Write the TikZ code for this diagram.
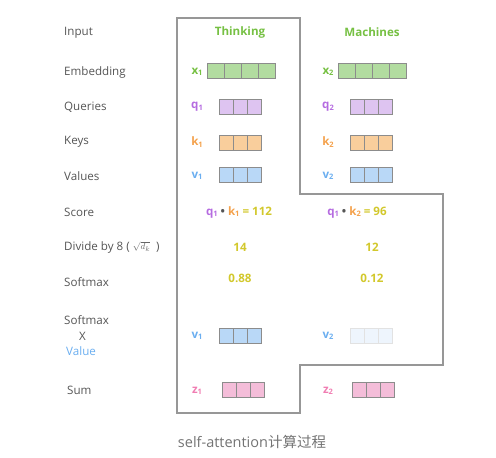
\documentclass[tikz,border=0pt]{standalone}
\usepackage{fontspec}
\setmainfont{Open Sans}
\newfontfamily\cjk{Noto Sans CJK SC}
\definecolor{lbl}{HTML}{555555}
\definecolor{tgreen}{HTML}{76C043}
\definecolor{fgreen}{HTML}{B2DCA0}
\definecolor{tpurple}{HTML}{B56BE0}
\definecolor{fpurple}{HTML}{DEC4F1}
\definecolor{torange}{HTML}{F4A14B}
\definecolor{forange}{HTML}{F9CE9C}
\definecolor{tblue}{HTML}{6AAEF0}
\definecolor{fblue}{HTML}{B9D8F7}
\definecolor{flblue}{HTML}{EEF5FD}
\definecolor{tyellow}{HTML}{D2C82C}
\definecolor{tpink}{HTML}{F07DB2}
\definecolor{fpink}{HTML}{F4BDD9}
\definecolor{edge}{HTML}{8C8C8C}
\newcommand{\sub}[1]{\raisebox{-1.3pt}{\fontsize{7.5}{7.5}\selectfont #1}}
\newcommand{\vecbox}[6]{%
  \foreach \i in {1,...,#4} {\draw[cellline,fill=#6] ({#2+(\i-1)*#5},#3) rectangle ++(#5,15);}
  \coordinate (#1) at ({#2+#4*#5/2},{#3+7.5});}
\begin{document}
\begin{tikzpicture}[x=1pt,y=-1pt,
  rowlabel/.style={anchor=west,text=lbl,font=\fontsize{11.6}{13}\selectfont,inner sep=0},
  vlabel/.style={font=\bfseries\fontsize{11.6}{13}\selectfont,inner sep=0},
  num/.style={font=\bfseries\fontsize{11.6}{13}\selectfont,text=tyellow,inner sep=0},
  cellline/.style={draw=edge,line width=0.9pt},
  outline/.style={draw=edge!90,line width=1.1pt}]
\useasboundingbox (0,0) rectangle (496,458);
% outline
\draw[outline] (177,18) -- (300,18) -- (300,194) -- (443,194) -- (443,365) -- (300,365) -- (300,413) -- (177,413) -- cycle;
% row labels
\node[rowlabel] (lin) at (64,33) {Input};
\node[rowlabel] (lemb) at (64,72) {Embedding};
\node[rowlabel] (lq) at (64,107) {Queries};
\node[rowlabel] (lk) at (64,142) {Keys};
\node[rowlabel] (lv) at (64,176) {Values};
\node[rowlabel] (lsc) at (64,212) {Score};
\node[rowlabel] (ldiv) at (64,247) {Divide by 8 ( \raisebox{0.5pt}{\fontsize{9.5}{9.5}\selectfont\color{black!60}$\sqrt{d_k}$}\hspace{6pt})};
\node[rowlabel] (lsm) at (64,282) {Softmax};
\node[rowlabel] (lsm2) at (64,320) {Softmax};
\node[rowlabel] (lx) at (79,336) {X};
\node[rowlabel,text=tblue] (lval) at (66,351) {Value};
\node[rowlabel] (lsum) at (67,390) {Sum};
% headers
\node[vlabel,text=tgreen] (h1) at (240,32) {Thinking};
\node[vlabel,text=tgreen] (h2) at (372,32) {Machines};
% embeddings
\node[vlabel,text=tgreen] (x1) at (197,72) {x\sub{1}};
\vecbox{e1}{207}{63}{4}{17}{fgreen}
\node[vlabel,text=tgreen] (x2) at (328,72) {x\sub{2}};
\vecbox{e2}{338}{63}{4}{17}{fgreen}
% queries
\node[vlabel,text=tpurple] (q1) at (197,107) {q\sub{1}};
\vecbox{qb1}{219}{99}{3}{14.3}{fpurple}
\node[vlabel,text=tpurple] (q2) at (328,107) {q\sub{2}};
\vecbox{qb2}{350}{99}{3}{14.3}{fpurple}
% keys
\node[vlabel,text=torange] (k1) at (197,142) {k\sub{1}};
\vecbox{kb1}{219}{135}{3}{14.3}{forange}
\node[vlabel,text=torange] (k2) at (328,142) {k\sub{2}};
\vecbox{kb2}{350}{135}{3}{14.3}{forange}
% values
\node[vlabel,text=tblue] (v1) at (197,176) {v\sub{1}};
\vecbox{vb1}{219}{167}{3}{14.3}{fblue}
\node[vlabel,text=tblue] (v2) at (328,176) {v\sub{2}};
\vecbox{vb2}{350}{167}{3}{14.3}{fblue}
% score
\node[vlabel] (s1) at (239,212) {\textcolor{tpurple}{q\sub{1}} \textcolor{lbl}{•} \textcolor{torange}{k\sub{1}} \textcolor{tyellow}{= 112}};
\node[vlabel] (s2) at (357,212) {\textcolor{tpurple}{q\sub{1}} \textcolor{lbl}{•} \textcolor{torange}{k\sub{2}} \textcolor{tyellow}{= 96}};
% divide
\node[num] (d1) at (240,247) {14};
\node[num] (d2) at (372,247) {12};
% softmax
\node[num] (m1) at (240,278) {0.88};
\node[num] (m2) at (372,278) {0.12};
% weighted values
\node[vlabel,text=tblue] (w1) at (197,336) {v\sub{1}};
\vecbox{wb1}{219}{328}{3}{14.3}{fblue}
\node[vlabel,text=tblue] (w2) at (328,336) {v\sub{2}};
\begin{scope}[cellline/.style={draw=edge!25,line width=0.9pt}]
\vecbox{wb2}{350}{328}{3}{14.3}{flblue}
\end{scope}
% sum
\node[vlabel,text=tpink] (z1) at (197,391) {z\sub{1}};
\vecbox{zb1}{222}{382}{3}{14.3}{fpink}
\node[vlabel,text=tpink] (z2) at (328,391) {z\sub{2}};
\vecbox{zb2}{352}{382}{3}{14.3}{fpink}
% caption
\node[text=black!55,font=\fontsize{14.5}{16}\selectfont,inner sep=0] (cap) at (252,442) {self-attention{\cjk 计算过程}};
\end{tikzpicture}
\end{document}
